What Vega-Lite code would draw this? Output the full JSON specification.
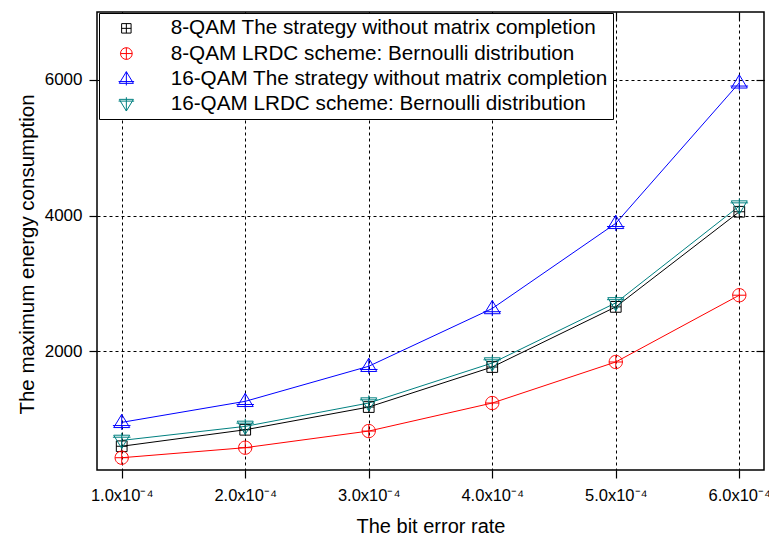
{
  "$schema": "https://vega.github.io/schema/vega-lite/v6.json",
  "width": 667,
  "height": 458,
  "autosize": {"type": "none"},
  "padding": {"left": 97, "top": 12, "right": 5, "bottom": 66},
  "background": "white",
  "config": {
    "font": "Liberation Sans",
    "view": {"stroke": "black", "strokeWidth": 1.5}
  },
  "data": {
    "values": [
      {"series": "8-QAM The strategy without matrix completion", "ber": 1, "energy": 600},
      {"series": "8-QAM The strategy without matrix completion", "ber": 2, "energy": 843},
      {"series": "8-QAM The strategy without matrix completion", "ber": 3, "energy": 1178},
      {"series": "8-QAM The strategy without matrix completion", "ber": 4, "energy": 1768},
      {"series": "8-QAM The strategy without matrix completion", "ber": 5, "energy": 2654},
      {"series": "8-QAM The strategy without matrix completion", "ber": 6, "energy": 4056},
      {"series": "8-QAM LRDC scheme: Bernoulli distribution", "ber": 1, "energy": 431},
      {"series": "8-QAM LRDC scheme: Bernoulli distribution", "ber": 2, "energy": 579},
      {"series": "8-QAM LRDC scheme: Bernoulli distribution", "ber": 3, "energy": 824},
      {"series": "8-QAM LRDC scheme: Bernoulli distribution", "ber": 4, "energy": 1237},
      {"series": "8-QAM LRDC scheme: Bernoulli distribution", "ber": 5, "energy": 1842},
      {"series": "8-QAM LRDC scheme: Bernoulli distribution", "ber": 6, "energy": 2826},
      {"series": "16-QAM The strategy without matrix completion", "ber": 1, "energy": 952},
      {"series": "16-QAM The strategy without matrix completion", "ber": 2, "energy": 1262},
      {"series": "16-QAM The strategy without matrix completion", "ber": 3, "energy": 1779},
      {"series": "16-QAM The strategy without matrix completion", "ber": 4, "energy": 2630},
      {"series": "16-QAM The strategy without matrix completion", "ber": 5, "energy": 3885},
      {"series": "16-QAM The strategy without matrix completion", "ber": 6, "energy": 5956},
      {"series": "16-QAM LRDC scheme: Bernoulli distribution", "ber": 1, "energy": 686},
      {"series": "16-QAM LRDC scheme: Bernoulli distribution", "ber": 2, "energy": 893},
      {"series": "16-QAM LRDC scheme: Bernoulli distribution", "ber": 3, "energy": 1237},
      {"series": "16-QAM LRDC scheme: Bernoulli distribution", "ber": 4, "energy": 1827},
      {"series": "16-QAM LRDC scheme: Bernoulli distribution", "ber": 5, "energy": 2713},
      {"series": "16-QAM LRDC scheme: Bernoulli distribution", "ber": 6, "energy": 4140}
    ]
  },
  "resolve": {"axis": {"x": "independent", "y": "independent"}},
  "layer": [
    {
      "mark": {"type": "line", "strokeWidth": 1},
      "encoding": {
        "x": {
          "field": "ber", "type": "quantitative",
          "scale": {"domain": [0.8, 6.2], "nice": false, "zero": false},
          "axis": {
            "orient": "bottom",
            "values": [1, 2, 3, 4, 5, 6],
            "labelExpr": "format(datum.value, '.1f') + 'x10⁻⁴'",
            "labelFontSize": 16.5,
            "labelColor": "black",
            "labelPadding": 9,
            "tickSize": 8,
            "tickColor": "black",
            "tickWidth": 1.2,
            "domain": false,
            "grid": true,
            "gridColor": "black",
            "gridOpacity": 1,
            "gridDash": [3, 3],
            "gridWidth": 1,
            "title": "The bit error rate",
            "titleFontSize": 20,
            "titleFontWeight": "normal",
            "titleColor": "black",
            "titleBaseline": "alphabetic",
            "titleY": 62
          }
        },
        "y": {
          "field": "energy", "type": "quantitative",
          "scale": {"domain": [250, 7000], "nice": false, "zero": false},
          "axis": {
            "orient": "left",
            "values": [2000, 4000, 6000],
            "format": "d",
            "labelFontSize": 17,
            "labelColor": "black",
            "labelPadding": 7,
            "tickSize": 8,
            "tickColor": "black",
            "tickWidth": 1.2,
            "domain": false,
            "grid": true,
            "gridColor": "black",
            "gridOpacity": 1,
            "gridDash": [3, 3],
            "gridWidth": 1,
            "title": "The maximum energy consumption",
            "titleFontSize": 20.5,
            "titleFontWeight": "normal",
            "titleColor": "black",
            "titleAngle": -90,
            "titleBaseline": "alphabetic",
            "titleAlign": "center",
            "titleX": -64,
            "titleY": 242
          }
        },
        "color": {
          "field": "series", "type": "nominal",
          "scale": {
            "domain": [
              "8-QAM The strategy without matrix completion",
              "8-QAM LRDC scheme: Bernoulli distribution",
              "16-QAM The strategy without matrix completion",
              "16-QAM LRDC scheme: Bernoulli distribution"
            ],
            "range": ["#000000", "#ff0000", "#0000ff", "#008080"]
          }
        }
      }
    },
    {
      "mark": {"type": "point", "filled": false, "strokeWidth": 1, "size": 256, "opacity": 1},
      "encoding": {
        "x": {
          "field": "ber", "type": "quantitative",
          "scale": {"domain": [0.8, 6.2], "nice": false, "zero": false},
          "axis": {
            "orient": "top", "values": [1, 2, 3, 4, 5, 6], "labels": false,
            "tickSize": -8, "tickColor": "black", "tickWidth": 1.2,
            "domain": false, "grid": false, "title": null
          }
        },
        "y": {
          "field": "energy", "type": "quantitative",
          "scale": {"domain": [250, 7000], "nice": false, "zero": false},
          "axis": {
            "orient": "right", "values": [2000, 4000, 6000], "labels": false,
            "tickSize": -8, "tickColor": "black", "tickWidth": 1.2,
            "domain": false, "grid": false, "title": null
          }
        },
        "color": {
          "field": "series", "type": "nominal",
          "legend": {
            "orient": "none",
            "legendX": 2,
            "legendY": 1,
            "title": null,
            "labelFontSize": 20.7,
            "labelColor": "black",
            "labelLimit": 600,
            "labelOffset": 34,
            "symbolOffset": 12,
            "symbolSize": 200,
            "symbolStrokeWidth": 1,
            "rowPadding": 3.2,
            "padding": 5,
            "strokeColor": "black",
            "fillColor": "white"
          }
        },
        "shape": {
          "field": "series", "type": "nominal",
          "scale": {
            "domain": [
              "8-QAM The strategy without matrix completion",
              "8-QAM LRDC scheme: Bernoulli distribution",
              "16-QAM The strategy without matrix completion",
              "16-QAM LRDC scheme: Bernoulli distribution"
            ],
            "range": [
              "M-0.67,-0.67H0.67V0.67H-0.67Z M-0.67,0H0.67 M0,-0.67V0.67",
              "M-0.83,0A0.83,0.83 0 1,1 0.83,0A0.83,0.83 0 1,1 -0.83,0Z M-0.83,0H0.83 M0,-0.83V0.83",
              "M0,-1L1,0.65L-1,0.65Z M-1.1,0.4H1.1 M0,-1V0.95",
              "M-1,-0.65H1L0,1Z M-1.1,-0.4H1.1 M0,-0.95V1"
            ]
          }
        }
      }
    }
  ]
}
